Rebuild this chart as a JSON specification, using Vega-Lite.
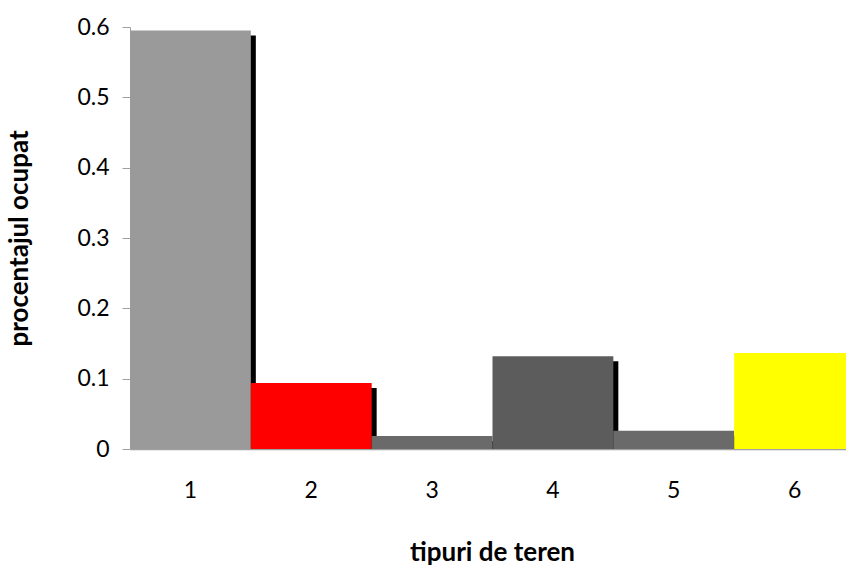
{
  "$schema": "https://vega.github.io/schema/vega-lite/v6.json",
  "autosize": "none",
  "width": 716,
  "height": 422,
  "padding": {"left": 130, "top": 27, "right": 0, "bottom": 119},
  "background": "white",
  "config": {"view": {"stroke": null}, "font": "Lato"},
  "data": {"values": [
    {"tip": "1", "procent": 0.595},
    {"tip": "2", "procent": 0.094},
    {"tip": "3", "procent": 0.0185},
    {"tip": "4", "procent": 0.132},
    {"tip": "5", "procent": 0.026},
    {"tip": "6", "procent": 0.1366}
  ]},
  "encoding": {
    "x": {"field": "tip", "type": "nominal",
      "scale": {"range": [0, 725], "paddingInner": 0, "paddingOuter": 0},
      "axis": {"title": "tipuri de teren", "labelAngle": 0, "ticks": false, "labelPadding": 30,
        "labelFontSize": 23, "labelFont": "Lato", "labelColor": "#000",
        "domainColor": "#a0a0a0", "domainWidth": 1.5,
        "titleFontSize": 26, "titleFont": "Lato", "titleFontWeight": "bold", "titleColor": "#000",
        "titlePadding": 37, "titleAnchor": "middle", "titleX": 362}},
    "y": {"field": "procent", "type": "quantitative",
      "scale": {"domain": [0, 0.6], "nice": false},
      "axis": {"title": "procentajul ocupat", "values": [0, 0.1, 0.2, 0.3, 0.4, 0.5, 0.6], "format": "~g",
        "grid": false, "tickSize": 8, "tickColor": "#a0a0a0", "domainColor": "#a0a0a0",
        "labelFontSize": 23, "labelFont": "Lato", "labelColor": "#000", "labelPadding": 13,
        "titleFontSize": 26, "titleFont": "Lato", "titleFontWeight": "bold", "titleColor": "#000",
        "titlePadding": 44}}
  },
  "layer": [
    {"mark": {"type": "bar", "color": "black", "xOffset": 5, "yOffset": 5, "y2Offset": 0},
      "encoding": {"y2": {"datum": 0}}},
    {"mark": {"type": "bar"},
      "encoding": {"color": {"field": "tip", "type": "nominal", "legend": null,
        "scale": {"domain": ["1", "2", "3", "4", "5", "6"],
          "range": ["#9a9a9a", "#ff0000", "#6a6a6a", "#5c5c5c", "#6a6a6a", "#ffff00"]}}}}
  ]
}
